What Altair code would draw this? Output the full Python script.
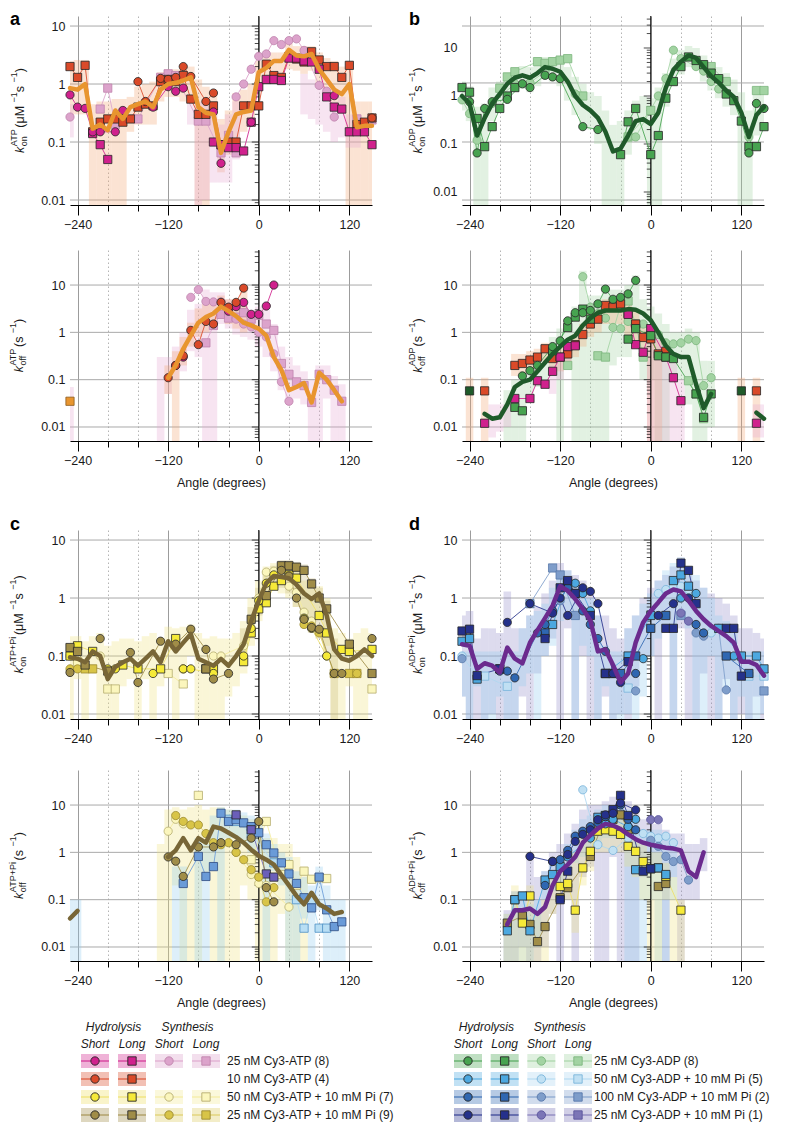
import altair as alt
import pandas as pd

N = None
BOT = 0.001          # "below the axis" for hatched bands that reach the bottom
ANG = list(range(-250, 151, 10))

# ================= panel a : k_on ATP =================
A_ON_AVG = [0.85, 0.8, 1.0, 0.17, 0.2, 0.16, 0.35, 0.25, 0.4, 0.45,
            0.5, 0.4, 0.8, 1.0, 1.05, 1.15, 1.3, 0.4, 0.32, 0.3,
            0.065, 0.15, 0.3, 0.33, 0.35, 1.6, 1.9, 2.5, 2.5, 3.9,
            3.1, 3.0, 3.3, 1.8, 1.2, 0.8, 0.67, 1.0, 0.18, 0.19,
            0.19]
A_ON_RL = [2.0, 1.3, 2.1, 0.15, 0.22, 0.25, 0.25, 0.22, 0.25, 0.4,
           0.45, 0.42, 1.1, 1.2, 1.1, 1.4, 0.55, 0.3, 0.3, 0.42,
           0.09, 0.1, 0.1, 0.42, 0.42, 0.42, 2.2, 1.4, 1.3, 3.0,
           2.7, 2.4, 3.6, 2.6, 2.0, 2.0, 1.3, 2.1, 0.2, 0.22,
           0.26]
A_ON_RS_A = [-160, -150, -130, -120, -110, -100, -90, -70, -60, 150]
A_ON_RS_V = [1.1, 0.5, 1.25, 1.2, 1.3, 2.0, 1.35, 0.5, 0.7, 0.26]
A_ON_MS_A = [-250, -240, -230, -220, -210, -190, -180, -140, -120, -110, -100, -60, -50, -10, 100]
A_ON_MS_V = [0.65, 0.4, 0.38, 0.15, 0.15, 0.15, 0.35, 0.4, 0.9, 0.75, 0.85, 0.33, 0.043, 0.22, 0.63]
A_ON_ML_A = [-220, -210, -200, -60, -50, -40, -30, -20, -10, 0, 10, 20, 30, 40, 50, 60, 70, 80, 90,
             100, 110, 120, 130, 140, 150]
A_ON_ML_V = [0.14, 0.09, 0.05, 0.1, 0.09, 0.08, 0.08, 0.07, 0.22, 0.9, 1.2, 1.2, 1.15, 2.8, 2.8, 2.5,
             2.4, 1.8, 0.6, 0.4, 0.37, 0.15, 0.15, 0.15, 0.09]
A_ON_PS_A = [-250, -30, -20, -10, 0, 10, 20, 30, 40, 50, 60, 80, 90, 100]
A_ON_PS_V = [0.27, 0.6, 1.0, 1.8, 3.0, 3.3, 5.6, 4.8, 5.6, 6.0, 3.8, 0.95, 0.75, 0.27]
A_ON_PL_A = [-210, -200, -190, -180, -160, -130, -120, -110, -80, -70, -50, -40, -30, 130, 150]
A_ON_PL_V = [0.37, 0.85, 0.2, 0.25, 0.25, 1.3, 1.5, 1.4, 0.23, 0.23, 0.065, 0.13, 0.065, 0.25, 0.24]
A_ON_OR_HI = [2.5, 2.6, 2.6, 0.45, 0.5, 0.5, 0.55, 0.55, 0.6, 0.9,
              1.0, 1.1, 1.6, 1.8, 1.8, 2.0, 2.0, 1.2, 0.9, 0.8,
              0.25, 0.35, 0.7, 0.8, 1.0, 2.5, 3.0, 3.5, 3.5, 5.0,
              4.5, 4.5, 4.5, 3.5, 2.8, 2.5, 2.0, 2.5, 0.5, 0.5,
              0.5]
A_ON_OR_LO = [0.25, 0.3, 0.3, BOT, BOT, BOT, BOT, BOT, 0.15, 0.2,
              0.2, 0.2, 0.5, 0.6, 0.6, 0.5, 0.5, BOT, BOT, 0.12,
              0.03, 0.06, 0.12, 0.15, 0.2, 0.8, 1.0, 1.2, 1.2, 1.8,
              1.7, 1.5, 1.7, 0.9, 0.6, 0.4, 0.35, BOT, BOT, BOT,
              BOT]
A_ON_PK_A = [-250, -90, -80, -70, -60, -50, -40, -30, 60, 70, 80, 90, 100, 110, 120, 130]
A_ON_PK_LO = [0.12, 0.2, BOT, 0.01, 0.02, 0.02, 0.02, 0.05, 0.3, 0.25, 0.2, 0.15, 0.1, 0.12, 0.08, 0.08]
A_ON_PK_HI = [0.45, 0.6, 0.5, 0.45, 0.4, 0.2, 0.3, 0.5, 1.5, 1.2, 1.0, 0.7, 0.5, 0.6, 0.3, 0.3]

# ================= panel a : k_off ATP =================
A_OFF_AVG_A = list(range(-120, 111, 10))
A_OFF_AVG_V = [0.11, 0.2, 0.45, 0.85, 1.6, 2.1, 2.5, 3.5, 2.8, 2.2, 1.6, 1.4, 1.2, 0.85, 0.3, 0.16,
               0.06, 0.07, 0.085, 0.033, 0.14, 0.1, 0.06, 0.035]
A_OFF_RS_A = [-120, -110, -100, -90, -80, -70, -60, -50, -40, -30, -20]
A_OFF_RS_V = [0.11, 0.2, 0.32, 1.1, 0.55, 1.7, 1.5, 4.3, 3.4, 4.3, 8.6]
A_OFF_MS_A = [-110, -100, -40, -30, -20, -10, 0, 10, 20]
A_OFF_MS_V = [0.2, 0.3, 2.8, 3.5, 4.3, 2.4, 2.4, 3.6, 10]
A_OFF_PS_A = [-90, -80, -70, -60, -50, -40, -30, -20, -10, 0, 10, 20, 30, 40]
A_OFF_PS_V = [5.5, 8.0, 4.5, 4.4, 4.4, 3.4, 1.9, 1.5, 1.3, 1.0, 0.8, 0.35, 0.09, 0.035]
A_OFF_PL_A = [-70, -60, -50, -40, -30, -20, -10, 0, 10, 20, 30, 40, 50, 60, 70, 80, 90, 100, 110]
A_OFF_PL_V = [0.6, 1.4, 2.4, 2.0, 2.1, 2.6, 1.9, 2.3, 1.5, 1.1, 0.22, 0.13, 0.09, 0.075, 0.033, 0.13,
              0.1, 0.06, 0.035]
A_OFF_AQ_A = [-250]
A_OFF_AQ_V = [0.035]
A_OFF_PK_A = [-250, -130, -120, -110, -100, -90, -80, -70, -60, -50, -40, -30, -20, -10, 0, 10, 20, 30,
              40, 50, 60, 70, 80, 90, 100, 110]
A_OFF_PK_HI = [0.07, 0.3, 0.3, 0.5, 1.0, 3, 4, 8, 7, 7, 5, 4, 4, 3, 3.5, 3, 1.5, 0.5, 0.3, 0.2,
               0.15, 0.1, 0.2, 0.2, 0.12, 0.08]
A_OFF_PK_LO = [BOT, BOT, 0.05, 0.1, 0.15, 0.4, 0.3, BOT, BOT, 1.5, 1.2, 0.9, 0.8, 0.7, 0.5, 0.3, 0.15,
               0.06, 0.03, 0.04, 0.03, BOT, BOT, 0.04, BOT, BOT]
A_OFF_OR_A = [-120, -110, -100, -90, -80, -70, -60, -50, -40, -30, -20]
A_OFF_OR_HI = [0.2, 0.4, 0.8, 1.6, 3.2, 4, 4.5, 6, 5, 5, 9]
A_OFF_OR_LO = [0.05, BOT, 0.2, 0.5, 0.8, 1, 1.2, 2, 1.5, 1.2, 1.0]

# ================= panel b : k_on ADP =================
B_ON_AVG = [1.0, 0.7, 0.15, 0.35, 0.7, 1.1, 1.8, 2.4, 2.7, 2.4,
            3.0, 4.0, 3.7, 3.2, 2.0, 1.0, 0.65, 0.5, 0.35, 0.18,
            0.07, 0.08, 0.15, 0.3, 0.33, 0.26, 0.45, 1.5, 3.5, 5.2,
            7.0, 6.2, 4.0, 2.6, 1.9, 1.3, 0.95, 0.45, 0.14, 0.4,
            0.6]
B_ON_GS_A = [-240, -230, -220, -210, -190, -170, -160, -140, -130, -120, -90, -70, 130, 140, 150]
B_ON_GS_V = [0.76, 0.065, 0.55, 0.76, 0.85, 1.8, 1.5, 2.7, 2.5, 2.3, 0.23, 0.2, 0.065, 0.7, 0.55]
B_ON_GL_A = [-250, -240, -230, -220, -210, -200, -190, -180, -40, -30, -20, 0, 10, 20, 30, 40, 50, 60,
             70, 80, 90, 100, 110, 120, 130, 140, 150]
B_ON_GL_V = [1.5, 1.2, 0.34, 0.088, 0.23, 0.55, 1.0, 1.5, 0.06, 0.29, 0.55, 0.06, 0.15, 0.9, 2.0, 4.1,
             6.5, 5.5, 4.5, 3.0, 2.3, 1.1, 0.8, 0.3, 0.088, 0.088, 0.23]
B_ON_LS_A = [-250, -240, -230, -210, -180, -160, -140, -100, -30, -20, 10, 20, 30, 40, 60, 70, 80, 90, 130]
B_ON_LS_V = [0.83, 0.43, 0.12, 0.7, 1.8, 1.9, 3.2, 1.1, 0.14, 0.14, 1.0, 2.3, 9.0, 6.0, 4.1, 3.3, 2.0,
             1.4, 0.14]
B_ON_LL_A = [-200, -190, -180, -150, -140, -130, -120, -110, -90, -30, 0, 80, 100, 140, 150]
B_ON_LL_V = [1.45, 2.5, 3.2, 5.2, 4.8, 5.2, 5.6, 6.0, 1.0, 0.14, 0.5, 4.1, 2.0, 1.3, 1.3]
B_ON_G_HI = [2.0, 1.6, 0.6, 0.7, 1.5, 2.0, 3.0, 4.0, 4.2, 4.0,
             5.5, 6.5, 6.5, 6.0, 4.0, 2.5, 1.8, 1.2, 1.0, 0.5,
             0.25, 0.3, 0.5, 0.8, 1.0, 0.9, 1.5, 3.0, 6.0, 9.0,
             11, 10, 7.0, 5.0, 4.0, 3.0, 2.2, 1.2, 0.5, 1.2,
             1.5]
B_ON_G_LO = [0.5, 0.3, BOT, BOT, 0.3, 0.5, 0.8, 1.2, 1.4, 1.2,
             1.6, 2.2, 2.0, 1.6, 0.8, 0.4, 0.25, 0.2, 0.1, BOT,
             BOT, BOT, 0.06, 0.12, 0.12, BOT, BOT, 0.6, 1.6, 2.8,
             4.0, 3.5, 2.0, 1.3, 0.9, 0.6, 0.4, BOT, BOT, 0.15,
             0.2]

# ================= panel b : k_off ADP =================
B_OFF_AVG = [N, N, N, 0.019, 0.015, 0.016, 0.03, 0.07, 0.09, 0.1,
             0.15, 0.23, 0.35, 0.5, 0.7, 0.85, 1.4, 2.0, 2.6, 2.9,
             2.9, 2.9, 3.1, 3.0, 2.5, 1.8, 1.0, 0.52, 0.35, 0.3,
             0.3, 0.08, 0.025, 0.05, N, N, N, N, N, 0.02,
             0.015]
B_OFF_RL_A = [-220, -180, -170, -160, -150, -140, -130, -120, -110, -100, -90, -80, -70, -60, -50, -40,
              -30, -20, -10, 0, 10, 20, 140]
B_OFF_RL_V = [0.058, 0.2, 0.22, 0.26, 0.3, 0.45, 0.28, 0.3, 0.35, 0.55, 0.9, 1.5, 1.9, 3.7, 3.4, 4.0,
              2.5, 1.5, 0.78, 0.73, 0.35, 0.4, 0.058]
B_OFF_ML_A = [-220, -180, -160, -150, -140, -130, -120, -110, -100, -30, -20, -10, 0, 20, 30, 40, 140]
B_OFF_ML_V = [0.012, 0.04, 0.04, 0.095, 0.08, 0.15, 0.3, 0.5, 0.52, 2.4, 0.55, 0.38, 1.2, 0.3, 0.11,
              0.036, 0.012]
B_OFF_AQ_A = [-240, 120]
B_OFF_AQ_V = [0.058, 0.058]
B_OFF_GS_A = [-170, -160, -150, -130, -120, -110, -100, -90, -80, -70, -60, -50, -40, -30, -20]
B_OFF_GS_V = [0.12, 0.155, 0.2, 0.5, 0.66, 1.75, 2.6, 2.6, 2.9, 4.0, 8.2, 5.0, 5.5, 6.5, 12.5]
B_OFF_GL_A = [-180, -170, -130, -110, -100, -90, -80, -30, -20, 0, 10, 20, 30, 60, 70, 80]
B_OFF_GL_V = [0.026, 0.022, 0.41, 1.27, 2.1, 3.1, 1.9, 0.72, 1.2, 0.85, 0.32, 0.3, 0.28, 0.05, 0.016, 0.05]
B_OFF_LS_A = [-90, -80, -70, -60, -50, -40, -30, -20, -10, 0, 10, 20, 30, 40, 50, 60, 70, 80]
B_OFF_LS_V = [15, 3.4, 2.5, 2.0, 1.27, 1.2, 1.7, 1.5, 1.5, 1.0, 0.9, 0.6, 0.57, 0.6, 0.72, 0.67, 0.075, 0.11]
B_OFF_LL_A = [-110, -70, -60, -40, -30, -20, -10, 50, 60, 70]
B_OFF_LL_V = [0.2, 0.32, 0.3, 3.7, 4.6, 1.5, 0.3, 0.095, 0.05, 0.015]
B_OFF_G_A = list(range(-190, 81, 10))
B_OFF_G_HI = [0.06, 0.1, 0.15, 0.25, 0.35, 0.5, 0.8, 1.2, 2.0, 3.5,
              20, 6, 6, 10, 8, 8, 10, 16, 5, 3.5,
              2.5, 1.5, 1.0, 1.0, 1.2, 1.0, 0.25, 0.25]
B_OFF_G_LO = [BOT, BOT, BOT, 0.05, 0.07, 0.1, 0.15, BOT, 0.2, BOT,
              BOT, BOT, BOT, BOT, 0.2, 0.3, 0.3, 0.5, 0.1, 0.1,
              BOT, BOT, 0.1, 0.1, 0.03, BOT, BOT, 0.01]
B_OFF_O_A = [-240, -220, -180, -170, -160, -150, -140, -130, -120, -110, -100, -90, -80, -70, -60, -50,
             -40, -30, -20, -10, 0, 10, 120, 140]
B_OFF_O_HI = [0.11, 0.11, 0.35, 0.35, 0.4, 0.45, 0.6, 0.5, 0.5, 0.6, 0.9, 1.5, 2.5, 3, 5, 5, 6, 4, 3,
              1.5, 1.2, 0.7, 0.11, 0.11]
B_OFF_O_LO = [BOT, BOT, 0.12, 0.13, 0.15, 0.17, 0.25, 0.15, 0.15, 0.2, 0.3, 0.5, 0.8, 1.0, 1.5, 1.5,
              1.5, 0.8, 0.5, 0.3, BOT, BOT, BOT, BOT]
B_OFF_M_A = [-210, -200, -190, -130, -120, -110, 0, 10, 20, 30, 40, 140, 150]
B_OFF_M_HI = [0.03, 0.03, 0.03, 0.2, 0.35, 0.6, 1.5, 0.8, 0.6, 0.3, 0.1, 0.03, 0.03]
B_OFF_M_LO = [0.006, 0.008, 0.01, 0.05, 0.1, 0.2, BOT, BOT, BOT, BOT, BOT, 0.006, 0.006]

# ================= panel c : k_on ATP+Pi =================
C_ON_AVG = [0.095, 0.09, 0.078, 0.12, 0.1, 0.04, 0.065, 0.078, 0.09, 0.068,
            0.09, 0.12, 0.078, 0.18, 0.12, 0.17, 0.24, 0.09, 0.078, 0.068,
            0.089, 0.068, 0.1, 0.16, 0.4, 0.9, 1.8, 2.4, 2.3, 2.2,
            1.7, 1.2, 0.96, 1.2, 0.5, 0.13, 0.09, 0.083, 0.1, 0.13,
            0.1]
C_ON_OS_A = [-250, -210, -170, -160, -130, -110, -90, -70, -60, -40, 30, 40, 50, 60, 70, 80, 100, 110, 150]
C_ON_OS_V = [0.052, 0.2, 0.115, 0.035, 0.18, 0.16, 0.29, 0.13, 0.04, 0.05, 3.0, 2.4, 1.0, 0.43, 0.31,
             0.29, 0.05, 0.05, 0.2]
C_ON_OL_A = [-250, -240, -230, -200, -70, -10, 10, 30, 40, 50, 60, 70, 80, 90, 120, 150]
C_ON_OL_V = [0.14, 0.12, 0.07, 0.055, 0.06, 0.43, 1.1, 3.6, 3.6, 3.4, 3.0, 1.75, 1.0, 0.65, 0.16, 0.05]
C_ON_YS_A = [-200, -190, -140, -100, -90, -60, -20, -10, 0, 10, 20, 60, 70, 90]
C_ON_YS_V = [0.06, 0.06, 0.05, 0.06, 0.06, 0.05, 0.1, 0.3, 0.9, 1.8, 2.5, 0.45, 0.3, 0.1]
C_ON_YL_A = [-250, -240, -220, -180, -160, -130, -110, -70, -60, -20, -10, 0, 10, 20, 30, 40, 50, 80, 90,
             110, 120, 150]
C_ON_YL_V = [0.1, 0.15, 0.12, 0.07, 0.06, 0.06, 0.2, 0.06, 0.06, 0.08, 0.25, 0.65, 0.83, 1.6, 2.0, 2.5,
             2.2, 0.5, 0.25, 0.13, 0.12, 0.13]
C_ON_PS_A = [-250, -210, -60, -50, -20, 0, 10, 20, 40, 50, 60, 70, 80, 90]
C_ON_PS_V = [0.1, 0.1, 0.1, 0.1, 0.15, 1.0, 2.8, 2.9, 1.6, 1.25, 0.57, 0.4, 0.28, 0.1]
C_ON_PL_A = [-240, -200, -190, -120, -100, 150]
C_ON_PL_V = [0.08, 0.027, 0.027, 0.05, 0.033, 0.027]
C_ON_GS_A = [-250, -240, -100, 60, 70, 80, 100, 130]
C_ON_GS_V = [0.06, 0.06, 0.06, 0.35, 0.33, 0.25, 0.05, 0.05]
C_ON_GL_A = [-230, -220, 100, 120, 130]
C_ON_GL_V = [0.06, 0.06, 0.05, 0.05, 0.05]
C_ON_Y_HI = [0.22, 0.22, 0.18, 0.22, 0.25, 0.15, 0.18, 0.2, 0.2, 0.18,
             0.22, 0.25, 0.2, 0.32, 0.3, 0.32, 0.35, 0.25, 0.2, 0.22,
             0.2, 0.2, 0.25, 0.4, 1.0, 2.0, 3.5, 4.0, 4.0, 4.0,
             3.0, 2.0, 1.5, 1.6, 1.0, 0.3, 0.25, 0.2, 0.25, 0.3,
             0.25]
C_ON_Y_LO = [BOT, 0.04, BOT, 0.05, BOT, BOT, BOT, 0.03, 0.04, BOT,
             0.04, BOT, 0.03, 0.06, BOT, 0.05, 0.1, BOT, BOT, BOT,
             BOT, 0.02, 0.03, 0.05, 0.15, 0.4, 1.0, 1.5, 1.2, 1.0,
             0.7, 0.4, 0.3, 0.5, 0.15, BOT, BOT, 0.03, BOT, BOT,
             0.03]
C_ON_O_A = [-20, -10, 0, 10, 20, 30, 40, 50, 60, 70, 80, 90, 100]
C_ON_O_HI = [0.3, 0.7, 1.5, 2.8, 3.6, 4.5, 4.5, 4.2, 3.8, 2.2, 1.5, 0.9, 0.2]
C_ON_O_LO = [0.08, 0.2, 0.5, 0.8, 1.5, 1.5, 1.2, 0.7, 0.3, 0.25, 0.2, 0.1, BOT]

# ================= panel c : k_off ATP+Pi =================
C_OFF_AVG = [0.04, 0.058, N, N, N, N, N, N, N, N,
             N, N, N, 0.8, 1.1, 2.0, 1.1, 2.0, 1.6, 3.5,
             3.2, 2.6, 2.1, 1.6, 1.14, 0.85, 0.7, 0.55, 0.33, 0.2,
             0.12, 0.08, 0.14, 0.08, 0.065, 0.05, 0.055, N, N, N,
             N]
C_OFF_GS_A = [-110, -100, -90, -80, -70, -60, -50, -40, -30, -20, -10, 0, 10, 20]
C_OFF_GS_V = [6.0, 4.5, 3.8, 3.8, 2.5, 1.6, 1.45, 1.6, 1.0, 0.7, 0.43, 0.3, 0.09, 0.18]
C_OFF_OS_A = [-120, -110, -100, -80, -60, -50, -30, -10, 0, 10, 20]
C_OFF_OS_V = [0.8, 0.65, 0.31, 1.3, 1.3, 1.6, 1.45, 2.0, 4.5, 0.18, 0.09]
C_OFF_PS_A = [-120, -110, -100, -30, -10, 0, 10, 40]
C_OFF_PS_V = [2.8, 5.0, 4.0, 1.0, 0.34, 0.22, 0.2, 0.07]
C_OFF_BS_A = [-100, -80, -70, -60, -50, -40, -30, -20, -10, 0, 10, 20, 30, 40, 50, 60, 70, 80, 90, 100, 110]
C_OFF_BS_V = [0.22, 0.82, 0.31, 0.5, 6.7, 4.5, 4.9, 4.2, 3.5, 2.6, 1.45, 0.97, 0.6, 0.35, 0.22, 0.11,
              0.067, 0.3, 0.061, 0.027, 0.034]
C_OFF_LB_A = [-40, -30, -10, 20, 50, 60, 70, 80, 90]
C_OFF_LB_V = [5.0, 4.5, 2.5, 0.6, 0.1, 0.025, 0.1, 0.025, 0.025]
C_OFF_PL_A = [-80, -10, 10, 30, 40, 50, 60, 70, 80, 90]
C_OFF_PL_V = [16, 0.7, 4.5, 0.34, 0.55, 0.2, 0.4, 0.27, 0.29, 0.28]
C_OFF_PU_A = [-30, -10, 10, 20]
C_OFF_PU_V = [6.2, 3.0, 0.35, 0.3]
C_OFF_Y_A = list(range(-130, 61, 10))
C_OFF_Y_HI = [1.5, 8, 9, 8, 9, 10, 8, 9, 9, 8, 7, 6, 5, 4, 2, 2, 1.5, 1.5, 0.8, 0.5]
C_OFF_Y_LO = [BOT, BOT, 0.2, BOT, BOT, BOT, 0.3, BOT, BOT, BOT, BOT, 0.2, 0.1, BOT, BOT, BOT, 0.05,
              BOT, BOT, BOT]
C_OFF_B_A = [-250, -240, -110, -100, -80, -70, -60, -50, -40, -30, -20, -10, 0, 10, 20, 30, 40, 50, 60,
             70, 80, 90, 100, 110]
C_OFF_B_HI = [0.1, 0.1, 0.5, 0.5, 2.0, 1.5, 6.0, 9, 8, 8, 7, 6, 4, 2.5, 1.5, 1.0, 0.8, 0.4, 0.3, 0.2,
              0.5, 0.2, 0.1, 0.1]
C_OFF_B_LO = [BOT, BOT, BOT, BOT, BOT, BOT, 0.5, BOT, 2, 2, 1.5, 1.0, 0.8, BOT, 0.4, 0.2, BOT, BOT,
              0.04, BOT, 0.06, BOT, BOT, BOT]

# ================= panel d : k_on ADP+Pi =================
D_ON_AVG = [0.16, 0.15, 0.06, 0.075, 0.068, 0.052, 0.14, 0.09, 0.075, 0.17,
            0.28, 0.45, 0.74, 1.6, 1.34, 0.96, 0.65, 0.41, 0.12, 0.13,
            0.07, 0.035, 0.05, 0.17, 0.38, 0.6, 0.84, 1.2, 1.4, 1.3,
            0.9, 0.6, 0.43, 0.33, 0.27, 0.22, 0.17, 0.08, 0.08, 0.07,
            0.046]
D_ON_NL_A = [-250, -240, -230, -200, -140, -120, -110, -100, -80, -60, -50, -30, 20, 30, 40, 50, 60, 100,
             110, 120]
D_ON_NL_V = [0.27, 0.29, 0.046, 0.06, 0.2, 1.5, 2.0, 1.2, 0.5, 0.05, 0.05, 0.08, 0.3, 0.3, 4.0, 3.0, 0.8,
             0.3, 0.3, 0.045]
D_ON_NS_A = [-190, -160, -130, -120, -110, -90, -80, -70, -50, -40, 10, 30, 50]
D_ON_NS_V = [0.38, 0.8, 0.55, 1.0, 0.5, 1.5, 1.3, 0.8, 0.05, 0.035, 0.5, 0.8, 1.0]
D_ON_MS_A = [-200, -190, -180, -150, -140, -130, -110, -90, -80, -70, -60, -20, 60, 70]
D_ON_MS_V = [0.055, 0.055, 0.042, 0.25, 0.35, 0.6, 1.5, 0.6, 0.35, 0.2, 0.12, 0.05, 0.35, 0.25]
D_ON_ML_A = [-200, -140, -60, -50, -40, -20, 0, 20, 100, 130]
D_ON_ML_V = [0.06, 0.25, 0.05, 0.05, 0.05, 0.1, 0.3, 0.5, 0.1, 0.05]
D_ON_LS_A = [-100, -90, -80, -10, 40, 60, 110]
D_ON_LS_V = [1.8, 1.2, 0.6, 0.09, 1.0, 1.2, 0.1]
D_ON_LL_A = [-250, -240, -230, -130, -110, -100, -60, -30, 0, 30, 40, 50, 90, 120, 140, 150]
D_ON_LL_V = [0.18, 0.2, 0.04, 0.35, 1.8, 1.2, 0.05, 0.1, 0.5, 2.0, 2.5, 1.6, 0.3, 0.1, 0.1, 0.06]
D_ON_PS_A = [-250, -230, 10, 20, 30, 40, 50, 80]
D_ON_PS_V = [0.1, 0.045, 1.2, 1.4, 1.6, 1.6, 1.4, 0.25]
D_ON_PL_A = [-220, -190, -30, 130, 150]
D_ON_PL_V = [0.045, 0.03, 0.028, 0.045, 0.045]
D_ON_SS_A = [-250, -120, -20, 60, 70, 90, 100]
D_ON_SS_V = [0.09, 0.9, 0.025, 0.25, 0.22, 0.3, 0.026]
D_ON_SL_A = [-160, -130, -120, -100, 40, 150]
D_ON_SL_V = [0.8, 3.3, 2.5, 0.5, 0.5, 0.025]
D_ON_VS_A = [40, 50]
D_ON_VS_V = [0.55, 0.4]
D_ON_P_HI = [0.5, 0.6, 0.2, 0.3, 0.3, 0.25, 1.3, 0.3, 0.3, 0.5,
             0.7, 1.2, 2, 4, 3, 2.5, 2, 1.3, 0.5, 0.5,
             0.3, 0.2, 0.3, 0.5, 1.0, 1.5, 2.0, 2.5, 3.5, 5.0,
             3, 2, 1.5, 1.2, 1.0, 0.8, 0.5, 0.3, 0.3, 0.25,
             0.2]
D_ON_P_LO = [0.02, BOT, BOT, BOT, 0.01, BOT, BOT, BOT, 0.02, BOT,
             0.05, 0.1, 0.2, BOT, 0.3, BOT, 0.1, BOT, BOT, 0.02,
             BOT, 0.01, BOT, 0.03, 0.08, 0.1, BOT, 0.3, BOT, 0.3,
             BOT, BOT, 0.05, BOT, BOT, 0.04, BOT, 0.01, BOT, 0.02,
             BOT]
D_ON_B_HI = [0.12, 0.12, 0.12, 0.12, 0.12, 0.12, 0.12, 0.12, 0.3, 0.5,
             0.6, 0.8, 1.5, 3, 3, 2, 1.5, 1, 0.5, 0.15,
             0.12, 0.12, 0.3, 0.5, 0.8, 1.2, 2, 3, 4, 5,
             3, 2.5, 1.5, 1.0, 0.5, 0.4, 0.3, 0.12, 0.12, 0.12,
             0.12]
D_ON_B_LO = [0.02, BOT, 0.03, BOT, BOT, 0.02, BOT, BOT, 0.03, 0.05,
             BOT, 0.1, 0.15, 0.4, 0.5, BOT, 0.15, 0.1, BOT, 0.03,
             BOT, BOT, 0.01, BOT, 0.02, 0.1, 0.2, 0.3, BOT, 0.5,
             0.3, BOT, BOT, 0.1, BOT, 0.03, BOT, 0.02, BOT, BOT,
             0.01]

# ================= panel d : k_off ADP+Pi =================
D_OFF_AVG_A = list(range(-190, 71, 10))
D_OFF_AVG_V = [0.03, 0.06, 0.06, 0.065, 0.05, 0.07, 0.2, 0.4, 0.55, 0.8,
               1.6, 2.3, 3.2, 4.0, 3.7, 3.1, 2.4, 1.9, 1.6, 1.45,
               1.35, 1.25, 1.2, 1.1, 0.4, 0.3, 1.0]
D_OFF_YL_A = [-180, -170, -160, -120, -110, -100, -90, -80, -70, -60, -50, -40, -30, -20, -10, 10, 20, 40]
D_OFF_YL_V = [0.1, 0.032, 0.12, 0.19, 0.22, 0.06, 0.47, 1.05, 2.8, 3.0, 2.8, 2.4, 1.34, 1.05, 0.64, 0.47,
              0.31, 0.06]
D_OFF_OL_A = [-190, -170, -160, -150, -140, -120, -110, -80, -60, -50, -40, -30, 10, 20]
D_OFF_OL_V = [0.032, 0.045, 0.03, 0.013, 0.027, 0.11, 0.18, 0.82, 6.0, 5.0, 6.2, 3.0, 0.19, 0.22]
D_OFF_NS_A = [-160, -130, -110, -100, -90, -80, -70, -60, -50, -40, -20]
D_OFF_NS_V = [0.82, 0.64, 0.9, 1.7, 2.4, 3.0, 4.9, 6.2, 6.7, 11, 7.9]
D_OFF_MS_A = [-140, -130, -120, -110, -100, -90, -80, -70, -60, -50, -40, -30, -20]
D_OFF_MS_V = [0.2, 0.65, 0.7, 1.1, 2.2, 2.8, 3.5, 4.2, 5.7, 7.0, 10, 5.0, 3.0]
D_OFF_LS_A = [-110, -80, -60, -50, -30, -20]
D_OFF_LS_V = [0.8, 2.0, 4.0, 5.0, 3.5, 5.0]
D_OFF_PS_A = [-90, -70, -50, -30, -10, 0, 10, 20, 30]
D_OFF_PS_V = [21, 1.45, 1.1, 2.0, 2.5, 2.2, 2.0, 2.2, 1.6]
D_OFF_SS_A = [0, 10, 20, 30, 40, 50]
D_OFF_SS_V = [1.8, 1.34, 0.82, 0.64, 0.7, 0.26]
D_OFF_VS_A = [0, 10]
D_OFF_VS_V = [4.9, 4.9]
D_OFF_LL_A = [-190, -180, -170, -160, -140, -130, -120, -70, -60, -20, 0, 10, 20]
D_OFF_LL_V = [0.022, 0.1, 0.12, 0.022, 0.26, 0.34, 0.5, 5.5, 6.0, 0.43, 0.45, 0.47, 0.34]
D_OFF_NL_A = [-120, -110, -50, -40, -30, -10, 0]
D_OFF_NL_V = [0.1, 0.4, 8.0, 16, 6.0, 0.4, 0.45]
D_OFF_P_A = list(range(-190, 71, 10))
D_OFF_P_HI = [0.06, 0.15, 0.12, 0.8, 0.3, 0.4, 1.0, 1.5, 2.5, 4,
              8, 10, 10, 12, 15, 20, 12, 8, 5, 4,
              4, 3, 2.5, 2.5, 1.5, 1.5, 2]
D_OFF_P_LO = [BOT, BOT, 0.01, BOT, BOT, 0.01, 0.05, BOT, 0.1, BOT,
              0.3, 0.5, BOT, BOT, 0.8, BOT, BOT, BOT, 0.3, 0.5,
              0.5, BOT, 0.3, BOT, 0.1, 0.1, 0.4]
D_OFF_B_A = list(range(-190, 31, 10))
D_OFF_B_HI = [0.05, 0.15, 0.15, 0.08, 0.1, 0.4, 0.6, 0.8, 1.5, 3,
              5, 6, 8, 10, 10, 15, 8, 6, 3, 3,
              3, 2, 1.5]
D_OFF_B_LO = [BOT, BOT, BOT, BOT, 0.01, 0.1, 0.15, 0.2, 0.3, 0.6,
              0.8, 1, 1.5, 2, 2, 2, BOT, BOT, BOT, 0.1,
              BOT, BOT, 0.1]
D_OFF_Y_A = list(range(-190, 41, 10))
D_OFF_Y_HI = [0.05, 0.2, 0.05, 0.2, 0.05, 0.1, 0.3, 0.4, 0.5, 1,
              2, 2.5, 5, 5, 5, 5, 3, 2, 1.5, 1,
              1, 0.6, 0.3, 0.1]
D_OFF_Y_LO = [BOT, BOT, BOT, BOT, BOT, BOT, 0.05, 0.08, 0.1, 0.02,
              0.2, 0.4, 1, 1, 1, 1, 0.5, 0.3, 0.1, BOT,
              BOT, 0.1, BOT, BOT]

# ================= legend =================
LEG_L_ROWS = ["25 nM Cy3-ATP (8)", "10 nM Cy3-ATP (4)", "50 nM Cy3-ATP + 10 mM Pi (7)",
              "25 nM Cy3-ATP + 10 mM Pi (9)"]
LEG_R_ROWS = ["25 nM Cy3-ADP (8)", "50 nM Cy3-ADP + 10 mM Pi (5)", "100 nM Cy3-ADP + 10 mM Pi (2)",
              "25 nM Cy3-ADP + 10 mM Pi (1)"]
LEG_L_KEYS = [["mag_c", "mag_s", "pink_c", "pink_s"], ["red_c", "red_s", None, None],
              ["yel_c", "yel_s", "pyel_c", "pyel_s"], ["olv_c", "olv_s", "gold_c", "gold_s"]]
LEG_R_KEYS = [["grn_c", "grn_s", "lgrn_c", "lgrn_s"], ["lb_c", "lb_s", "pb_c", "pb_s"],
              ["mb_c", "mb_s", "sl_c", "sl_s"], ["nv_c", "nv_s", "lav_c", "lav_s"]]
LEG_HEAD = ["Hydrolysis", "Synthesis"]
LEG_SUB = ["Short", "Long", "Short", "Long"]

# ================= styles =================
FONT = "Liberation Sans"
EDGE = "#262626"
STY = {  # fill, edge, shape, line colour
    "mag_c": ("#d0218d", EDGE, "circle", "#d0218d"), "mag_s": ("#d0218d", EDGE, "square", "#d0218d"),
    "pink_c": ("#dca3cb", "#bf84ad", "circle", "#dca3cb"), "pink_s": ("#dca3cb", "#bf84ad", "square", "#dca3cb"),
    "red_c": ("#da4a29", EDGE, "circle", "#da4a29"), "red_s": ("#da4a29", EDGE, "square", "#da4a29"),
    "yel_c": ("#f6ea38", EDGE, "circle", "#eee067"), "yel_s": ("#f6ea38", EDGE, "square", "#eee067"),
    "pyel_c": ("#fbf6bd", "#b5ad70", "circle", "#f4ec9c"), "pyel_s": ("#fbf6bd", "#b5ad70", "square", "#f4ec9c"),
    "olv_c": ("#a08d48", EDGE, "circle", "#a08d48"), "olv_s": ("#a08d48", EDGE, "square", "#a08d48"),
    "gold_c": ("#d8c447", "#9c8a30", "circle", "#dccb62"), "gold_s": ("#d8c447", "#9c8a30", "square", "#dccb62"),
    "grn_c": ("#47a350", EDGE, "circle", "#47a350"), "grn_s": ("#47a350", EDGE, "square", "#47a350"),
    "lgrn_c": ("#a2d3a2", "#7cb57e", "circle", "#a2d3a2"), "lgrn_s": ("#a2d3a2", "#7cb57e", "square", "#a2d3a2"),
    "lb_c": ("#4ca8e0", EDGE, "circle", "#4ca8e0"), "lb_s": ("#4ca8e0", EDGE, "square", "#4ca8e0"),
    "pb_c": ("#c0e0f3", "#78b4da", "circle", "#b0d8f0"), "pb_s": ("#c0e0f3", "#78b4da", "square", "#b0d8f0"),
    "mb_c": ("#2f67b1", EDGE, "circle", "#2f67b1"), "mb_s": ("#2f67b1", EDGE, "square", "#2f67b1"),
    "sl_c": ("#7e9dca", "#5878aa", "circle", "#7e9dca"), "sl_s": ("#7e9dca", "#5878aa", "square", "#7e9dca"),
    "nv_c": ("#25318b", EDGE, "circle", "#25318b"), "nv_s": ("#25318b", EDGE, "square", "#25318b"),
    "lav_c": ("#7b75b6", "#5b559c", "circle", "#7b75b6"), "lav_s": ("#7b75b6", "#5b559c", "square", "#7b75b6"),
    "cb_s": ("#6a9bd8", "#2d4a80", "square", "#6a9bd8"),
    "cpb_s": ("#b8def4", "#4d8fc4", "square", "#b8def4"),
    "cpu_s": ("#6b5fb9", EDGE, "square", "#6b5fb9"),
    "avgA_s": ("#e8952f", "#8a5a20", "square", None),
    "avgB_s": ("#1f5a2a", EDGE, "square", None),
}
BAND = {"orange": "#f2a36e", "pink": "#e6a6cf", "green": "#9ed29f", "yellow": "#efe27a",
        "olive": "#c7b775", "lblue": "#8ec9ee", "purple": "#8f88c8"}
AVG_A, AVG_B, AVG_C, AVG_D = "#e8952f", "#1f5a2a", "#786637", "#6b2b8e"

W = 302
H_TOP, H_BOT = 189, 191
DOM_TOP = [0.0082, 14.9]
DOM_BTOP = [0.00536, 46.4]
DOM_BOT = [0.00506, 55.0]
GRID_STD = [0.01, 0.1, 1, 10]
GRID_BTOP = [0.0068, 0.11, 1.87, 28.7]
XT = [-240, -200, -160, -120, -80, -40, 0, 40, 80, 120]
ONE = pd.DataFrame({"o": [0]})

CW = {"k": 0.5, "o": 0.556, "n": 0.556, "f": 0.278, "A": 0.667, "T": 0.611, "P": 0.667, "D": 0.722,
      "+": 0.584, "i": 0.222, " ": 0.278, "(": 0.333, ")": 0.333, "μ": 0.576, "M": 0.833, "s": 0.5,
      "−": 0.584, "1": 0.556}


def tw(t, fs):
    return sum(CW.get(ch, 0.556) for ch in t) * fs


def rows_from(angles, vals, name):
    out, seg, prev = [], 0, None
    for a, v in zip(angles, vals):
        if v is None:
            prev = None
            continue
        if prev is None or a - prev > 30:
            seg += 1
        out.append({"a": a, "v": v, "s": name, "g": f"{name}|{seg}"})
        prev = a
    return out


def xaxis(bottom):
    return alt.Axis(
        values=XT,
        labelExpr="datum.value % 120 === 0 ? replace(format(datum.value, 'd'), '-', '\u2212') : ''",
        grid=True,
        gridDash={"condition": {"test": "datum.value % 120 !== 0", "value": [1.5, 2.5]}, "value": []},
        gridColor={"condition": {"test": "datum.value % 120 === 0", "value": "#9c9c9c"}, "value": "#b4b4b4"},
        gridWidth=1,
        tickSize={"condition": {"test": "datum.value % 120 === 0", "value": 10}, "value": 6},
        tickColor="black", domainColor="black", labelFontSize=12.5, labelColor="#1a1a1a",
        labelPadding=3, labelFont=FONT,
        title="Angle (degrees)" if bottom else None,
        titleFontSize=12.5, titleFontWeight="normal", titleColor="#1a1a1a", titlePadding=10, titleFont=FONT)


YAX = alt.Axis(values=[0.01, 0.1, 1, 10], format="~g", grid=False, ticks=False, domain=False,
               labelPadding=5, labelFontSize=12.5, labelColor="#1a1a1a", labelFont=FONT, title=None)


def title_layers(segs, xb, h):
    FS, FSS = 12.5, 9
    pieces, pos = [], 0.0
    for seg in segs:
        kind = seg[0]
        if kind == "it":
            pieces.append((seg[1], pos, 0, FS, True))
            pos += tw(seg[1], FS) + 0.5
        elif kind == "m":
            pieces.append((seg[1], pos, 0, FS, False))
            pos += tw(seg[1], FS)
        elif kind == "sup":
            pieces.append((seg[1], pos, -7, FSS, False))
            pos += tw(seg[1], FSS)
        elif kind == "ss":
            pieces.append((seg[1], pos, 2.5, FSS, False))
            pieces.append((seg[2], pos, -7, FSS, False))
            pos += max(tw(seg[1], FSS), tw(seg[2], FSS)) + 1
    start = h / 2 + pos / 2
    out = []
    for t, p, dx, fs, it in pieces:
        out.append(alt.Chart(ONE).mark_text(
            text=t, angle=270, align="left", baseline="alphabetic", fontSize=fs, font=FONT,
            fontStyle="italic" if it else "normal", color="#1a1a1a"
        ).encode(x=alt.value(xb + dx), y=alt.value(start - p)))
    return out


def ttl(sub, sup, rate):
    segs = [("it", "k"), ("ss", sub, sup)]
    if rate == "on":
        segs += [("m", " (μM"), ("sup", "−1"), ("m", " s"), ("sup", "−1"), ("m", ")")]
    else:
        segs += [("m", " (s"), ("sup", "−1"), ("m", ")")]
    return segs


def panel(h, dom, grid, bands, series, avg, avgcolor, segs, xb, bottom, letter=None, lpos=None):
    xsc = alt.Scale(domain=[-250, 150], nice=False, zero=False)

    def X(f):
        return alt.X(f, type="quantitative", scale=xsc, axis=xaxis(bottom))

    def Y(f):
        return alt.Y(f, type="quantitative", scale=alt.Scale(type="log", domain=dom, nice=False), axis=YAX)

    layers = [alt.Chart(pd.DataFrame({"gv": grid})).mark_rule(color="#a9a9a9", strokeWidth=1)
              .encode(y=Y("gv"))]
    brows, bnames, bcols = [], [], []
    for i, (angs, lo, hi, col) in enumerate(bands):
        nm = f"b{i}"
        brows += [{"a": a, "lo": l, "hi": u, "b": nm} for a, l, u in zip(angs, lo, hi) if u is not None]
        bnames.append(nm)
        bcols.append(BAND[col])
    layers.append(alt.Chart(pd.DataFrame(brows))
                  .transform_calculate(x0="datum.a - 5", x1="datum.a + 5")
                  .mark_rect(clip=True, opacity=0.3)
                  .encode(x=X("x0"), x2="x1:Q", y=Y("lo"), y2="hi:Q",
                          color=alt.Color("b:N", scale=alt.Scale(domain=bnames, range=bcols), legend=None)))
    layers.append(alt.Chart(pd.DataFrame({"a": [0]})).mark_rule(color="black", strokeWidth=1)
                  .encode(x=X("a")))
    minor, major = [], []
    for e in range(-4, 3):
        for m in range(1, 10):
            v = m * 10 ** e
            if dom[0] <= v <= dom[1]:
                (major if m == 1 else minor).append(v)
    layers.append(alt.Chart(pd.DataFrame({"a": [0] * len(minor), "v": minor}))
                  .mark_tick(orient="horizontal", size=4, thickness=1, color="black", xOffset=-2)
                  .encode(x=X("a"), y=Y("v")))
    layers.append(alt.Chart(pd.DataFrame({"a": [0] * len(major), "v": major}))
                  .mark_tick(orient="horizontal", size=7, thickness=1, color="black", xOffset=-3.5)
                  .encode(x=X("a"), y=Y("v")))
    srows, keys = [], []
    for key, angs, vals in series:
        srows += rows_from(angs, vals, key)
        keys.append(key)
    sdf = pd.DataFrame(srows)
    lkeys = [k for k in keys if STY[k][3]]
    layers.append(alt.Chart(sdf)
                  .transform_filter(alt.FieldOneOfPredicate(field="s", oneOf=lkeys))
                  .mark_line(strokeWidth=1, opacity=0.85)
                  .encode(x=X("a"), y=Y("v"),
                          color=alt.Color("s:N", scale=alt.Scale(domain=lkeys, range=[STY[k][3] for k in lkeys]),
                                          legend=None),
                          detail="g:N"))
    layers.append(alt.Chart(sdf).mark_point(filled=True, size=68, strokeWidth=0.8, opacity=1)
                  .encode(x=X("a"), y=Y("v"),
                          fill=alt.Fill("s:N", scale=alt.Scale(domain=keys, range=[STY[k][0] for k in keys]),
                                        legend=None),
                          stroke=alt.Stroke("s:N", scale=alt.Scale(domain=keys, range=[STY[k][1] for k in keys]),
                                            legend=None),
                          shape=alt.Shape("s:N", scale=alt.Scale(domain=keys, range=[STY[k][2] for k in keys]),
                                          legend=None)))
    layers.append(alt.Chart(pd.DataFrame(rows_from(avg[0], avg[1], "avg")))
                  .mark_line(color=avgcolor, strokeWidth=4.5, strokeJoin="round", strokeCap="round")
                  .encode(x=X("a"), y=Y("v"), detail="g:N"))
    layers += title_layers(segs, xb, h)
    if letter:
        layers.append(alt.Chart(ONE).mark_text(text=letter, fontSize=18, fontWeight="bold", align="left",
                                               baseline="top", font=FONT, color="black")
                      .encode(x=alt.value(lpos[0]), y=alt.value(lpos[1])))
    return (alt.layer(*layers)
            .resolve_scale(color="independent", fill="independent", stroke="independent", shape="independent")
            .properties(width=W, height=h))


a_top = panel(H_TOP, DOM_TOP, GRID_STD,
              [(ANG, A_ON_OR_LO, A_ON_OR_HI, "orange"), (A_ON_PK_A, A_ON_PK_LO, A_ON_PK_HI, "pink")],
              [("pink_s", A_ON_PL_A, A_ON_PL_V), ("pink_c", A_ON_PS_A, A_ON_PS_V),
               ("red_s", ANG, A_ON_RL), ("red_c", A_ON_RS_A, A_ON_RS_V),
               ("mag_s", A_ON_ML_A, A_ON_ML_V), ("mag_c", A_ON_MS_A, A_ON_MS_V)],
              (ANG, A_ON_AVG), AVG_A, ttl("on", "ATP", "on"), -46, False, "a", (-60, -5))
a_bot = panel(H_BOT, DOM_BOT, GRID_STD,
              [(A_OFF_PK_A, A_OFF_PK_LO, A_OFF_PK_HI, "pink"), (A_OFF_OR_A, A_OFF_OR_LO, A_OFF_OR_HI, "orange")],
              [("pink_s", A_OFF_PL_A, A_OFF_PL_V), ("pink_c", A_OFF_PS_A, A_OFF_PS_V),
               ("mag_c", A_OFF_MS_A, A_OFF_MS_V), ("red_c", A_OFF_RS_A, A_OFF_RS_V),
               ("avgA_s", A_OFF_AQ_A, A_OFF_AQ_V)],
              (A_OFF_AVG_A, A_OFF_AVG_V), AVG_A, ttl("off", "ATP", "off"), -47, True)
b_top = panel(H_TOP, DOM_BTOP, GRID_BTOP,
              [(ANG, B_ON_G_LO, B_ON_G_HI, "green")],
              [("lgrn_s", B_ON_LL_A, B_ON_LL_V), ("lgrn_c", B_ON_LS_A, B_ON_LS_V),
               ("grn_s", B_ON_GL_A, B_ON_GL_V), ("grn_c", B_ON_GS_A, B_ON_GS_V)],
              (ANG, B_ON_AVG), AVG_B, ttl("on", "ADP", "on"), -40, False, "b", (-53, -5))
b_bot = panel(H_BOT, DOM_BOT, GRID_STD,
              [(B_OFF_G_A, B_OFF_G_LO, B_OFF_G_HI, "green"), (B_OFF_O_A, B_OFF_O_LO, B_OFF_O_HI, "orange"),
               (B_OFF_M_A, B_OFF_M_LO, B_OFF_M_HI, "pink")],
              [("lgrn_s", B_OFF_LL_A, B_OFF_LL_V), ("lgrn_c", B_OFF_LS_A, B_OFF_LS_V),
               ("red_s", B_OFF_RL_A, B_OFF_RL_V), ("mag_s", B_OFF_ML_A, B_OFF_ML_V),
               ("grn_s", B_OFF_GL_A, B_OFF_GL_V), ("grn_c", B_OFF_GS_A, B_OFF_GS_V),
               ("avgB_s", B_OFF_AQ_A, B_OFF_AQ_V)],
              (ANG, B_OFF_AVG), AVG_B, ttl("off", "ADP", "off"), -40, True)
c_top = panel(H_TOP, DOM_TOP, GRID_STD,
              [(ANG, C_ON_Y_LO, C_ON_Y_HI, "yellow"), (C_ON_O_A, C_ON_O_LO, C_ON_O_HI, "olive")],
              [("pyel_s", C_ON_PL_A, C_ON_PL_V), ("pyel_c", C_ON_PS_A, C_ON_PS_V),
               ("gold_s", C_ON_GL_A, C_ON_GL_V), ("gold_c", C_ON_GS_A, C_ON_GS_V),
               ("yel_s", C_ON_YL_A, C_ON_YL_V), ("yel_c", C_ON_YS_A, C_ON_YS_V),
               ("olv_s", C_ON_OL_A, C_ON_OL_V), ("olv_c", C_ON_OS_A, C_ON_OS_V)],
              (ANG, C_ON_AVG), AVG_C, ttl("on", "ATP+Pi", "on"), -47, False, "c", (-60, -14))
c_bot = panel(H_BOT, DOM_BOT, GRID_STD,
              [(C_OFF_Y_A, C_OFF_Y_LO, C_OFF_Y_HI, "yellow"), (C_OFF_B_A, C_OFF_B_LO, C_OFF_B_HI, "lblue")],
              [("pyel_s", C_OFF_PL_A, C_OFF_PL_V), ("pyel_c", C_OFF_PS_A, C_OFF_PS_V),
               ("cpb_s", C_OFF_LB_A, C_OFF_LB_V), ("cb_s", C_OFF_BS_A, C_OFF_BS_V),
               ("cpu_s", C_OFF_PU_A, C_OFF_PU_V),
               ("gold_c", C_OFF_GS_A, C_OFF_GS_V), ("olv_c", C_OFF_OS_A, C_OFF_OS_V)],
              (ANG, C_OFF_AVG), AVG_C, ttl("off", "ATP+Pi", "off"), -47, True)
d_top = panel(H_TOP, DOM_TOP, GRID_STD,
              [(ANG, D_ON_P_LO, D_ON_P_HI, "purple"), (ANG, D_ON_B_LO, D_ON_B_HI, "lblue")],
              [("pb_s", D_ON_PL_A, D_ON_PL_V), ("pb_c", D_ON_PS_A, D_ON_PS_V),
               ("sl_s", D_ON_SL_A, D_ON_SL_V), ("sl_c", D_ON_SS_A, D_ON_SS_V),
               ("lav_c", D_ON_VS_A, D_ON_VS_V),
               ("lb_s", D_ON_LL_A, D_ON_LL_V), ("lb_c", D_ON_LS_A, D_ON_LS_V),
               ("mb_s", D_ON_ML_A, D_ON_ML_V), ("mb_c", D_ON_MS_A, D_ON_MS_V),
               ("nv_s", D_ON_NL_A, D_ON_NL_V), ("nv_c", D_ON_NS_A, D_ON_NS_V)],
              (ANG, D_ON_AVG), AVG_D, ttl("on", "ADP+Pi", "on"), -40, False, "d", (-53, -14))
d_bot = panel(H_BOT, DOM_BOT, GRID_STD,
              [(D_OFF_P_A, D_OFF_P_LO, D_OFF_P_HI, "purple"), (D_OFF_B_A, D_OFF_B_LO, D_OFF_B_HI, "lblue"),
               (D_OFF_Y_A, D_OFF_Y_LO, D_OFF_Y_HI, "yellow")],
              [("pb_c", D_OFF_PS_A, D_OFF_PS_V), ("sl_c", D_OFF_SS_A, D_OFF_SS_V),
               ("lav_c", D_OFF_VS_A, D_OFF_VS_V),
               ("olv_s", D_OFF_OL_A, D_OFF_OL_V), ("yel_s", D_OFF_YL_A, D_OFF_YL_V),
               ("lb_s", D_OFF_LL_A, D_OFF_LL_V), ("lb_c", D_OFF_LS_A, D_OFF_LS_V),
               ("mb_c", D_OFF_MS_A, D_OFF_MS_V),
               ("nv_s", D_OFF_NL_A, D_OFF_NL_V), ("nv_c", D_OFF_NS_A, D_OFF_NS_V)],
              (D_OFF_AVG_A, D_OFF_AVG_V), AVG_D, ttl("off", "ADP+Pi", "off"), -40, True)


def legend_chart(labels, keys, xr, txt_x):
    rows = []
    for r, lab in enumerate(labels):
        for c, k in enumerate(keys[r]):
            if k:
                rows.append({"r": lab, "c": c, "k": k})
    df = pd.DataFrame(rows)
    allk = [k for row in keys for k in row if k]
    XL = alt.X("c:Q", scale=alt.Scale(domain=[0, 3], range=xr), axis=None)
    YL = alt.Y("r:N", scale=alt.Scale(type="point", domain=labels, range=[46, 100], padding=0), axis=None)
    rect = alt.Chart(df).mark_point(shape="M-1,-0.5H1V0.5H-1Z", size=784, filled=True, opacity=0.35).encode(
        x=XL, y=YL, fill=alt.Fill("k:N", scale=alt.Scale(domain=allk, range=[STY[k][3] for k in allk]), legend=None))
    line = alt.Chart(df).mark_point(shape="M-1,0H1", size=784, filled=False, strokeWidth=1.5).encode(
        x=XL, y=YL, stroke=alt.Stroke("k:N", scale=alt.Scale(domain=allk, range=[STY[k][3] for k in allk]),
                                      legend=None))
    mk = alt.Chart(df).mark_point(filled=True, size=70, strokeWidth=0.9, opacity=1).encode(
        x=XL, y=YL,
        fill=alt.Fill("k:N", scale=alt.Scale(domain=allk, range=[STY[k][0] for k in allk]), legend=None),
        stroke=alt.Stroke("k:N", scale=alt.Scale(domain=allk, range=[STY[k][1] for k in allk]), legend=None),
        shape=alt.Shape("k:N", scale=alt.Scale(domain=allk, range=[STY[k][2] for k in allk]), legend=None))
    txt = alt.Chart(pd.DataFrame({"r": labels})).mark_text(align="left", fontSize=12, font=FONT,
                                                           color="#1a1a1a").encode(
        x=alt.value(txt_x), y=YL, text="r:N")
    head = alt.Chart(pd.DataFrame({"c": [0.5, 2.5], "t": LEG_HEAD})).mark_text(
        fontSize=12, fontStyle="italic", font=FONT, color="#1a1a1a").encode(x=XL, y=alt.value(12), text="t:N")
    sub = alt.Chart(pd.DataFrame({"c": [0, 1, 2, 3], "t": LEG_SUB})).mark_text(
        fontSize=12, fontStyle="italic", font=FONT, color="#1a1a1a").encode(x=XL, y=alt.value(29), text="t:N")
    return (alt.layer(rect, line, mk, txt, head, sub)
            .resolve_scale(fill="independent", stroke="independent", shape="independent")
            .properties(width=W, height=104))


def spacer(h):
    return alt.Chart(ONE).mark_point(opacity=0).encode(
        x=alt.value(0), y=alt.value(0)).properties(width=W, height=h)


leg_l = legend_chart(LEG_L_ROWS, LEG_L_KEYS, [25, 136], 157)
leg_r = legend_chart(LEG_R_ROWS, LEG_R_KEYS, [6, 116], 132)

chart = (alt.concat(a_top, b_top, spacer(1), spacer(1),
                    a_bot, b_bot, spacer(45), spacer(45),
                    c_top, d_top, spacer(7), spacer(7),
                    c_bot, d_bot, spacer(10), spacer(10),
                    leg_l, leg_r,
                    columns=2, spacing={"row": 22, "column": 90}, bounds="flush")
         .properties(padding={"left": 0, "top": 3, "right": 0, "bottom": 0})
         .configure_view(stroke=None)
         .configure_text(font=FONT))

chart.save("out.html", embed_options={"renderer": "svg", "actions": False})
